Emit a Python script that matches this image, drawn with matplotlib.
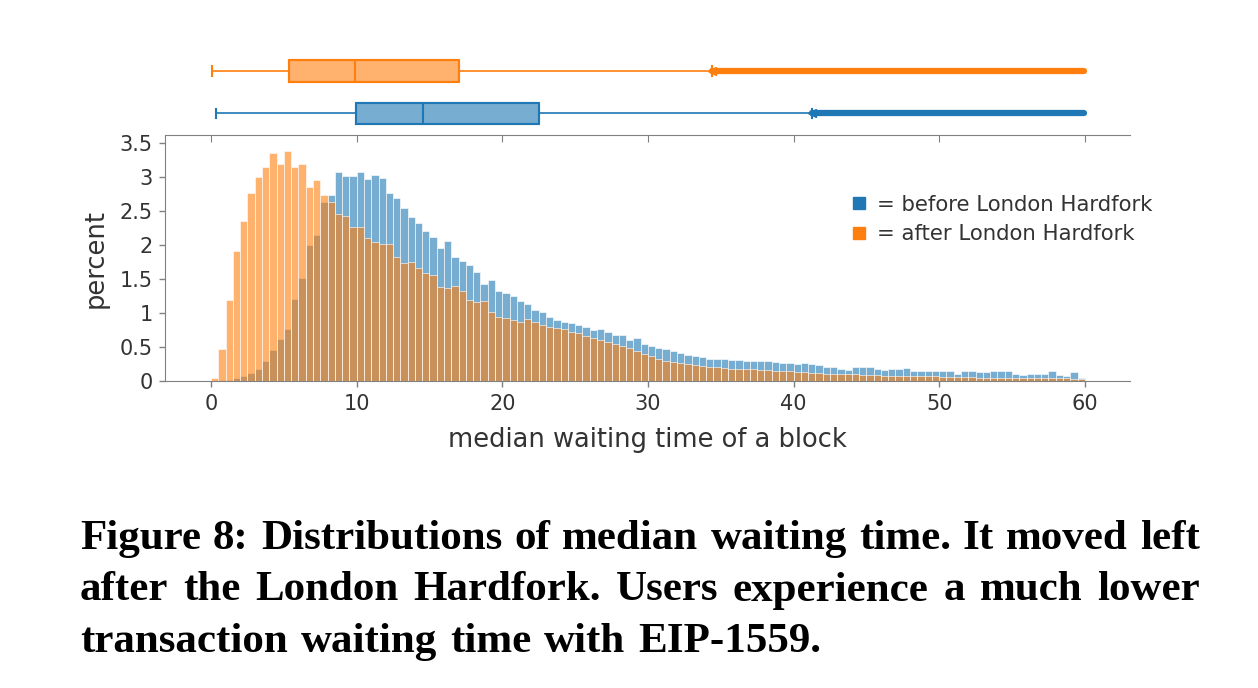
import numpy as np
import matplotlib
matplotlib.use("Agg")
import matplotlib.pyplot as plt
from matplotlib.lines import Line2D

# histogram heights (percent) per 0.5 s bin, 0..60
bin_width = 0.5
before = [0.0, 0.01, 0.02, 0.04, 0.08, 0.12, 0.17, 0.29, 0.45, 0.62,
          0.77, 1.20, 1.52, 2.00, 2.15, 2.63, 2.74, 3.07, 3.01, 3.01,
          3.07, 2.97, 3.03, 2.98, 2.76, 2.70, 2.54, 2.41, 2.32, 2.21,
          2.12, 1.96, 2.06, 1.83, 1.77, 1.70, 1.60, 1.43, 1.49, 1.32,
          1.30, 1.25, 1.18, 1.13, 1.04, 1.01, 0.94, 0.90, 0.87, 0.85,
          0.82, 0.80, 0.75, 0.77, 0.72, 0.68, 0.68, 0.60, 0.63, 0.55,
          0.52, 0.49, 0.47, 0.44, 0.41, 0.39, 0.37, 0.35, 0.33, 0.32,
          0.32, 0.31, 0.31, 0.29, 0.30, 0.30, 0.29, 0.28, 0.27, 0.27,
          0.25, 0.26, 0.25, 0.23, 0.21, 0.21, 0.17, 0.16, 0.20, 0.20,
          0.20, 0.17, 0.16, 0.17, 0.17, 0.19, 0.14, 0.14, 0.14, 0.14,
          0.14, 0.14, 0.11, 0.14, 0.14, 0.13, 0.13, 0.14, 0.14, 0.14,
          0.10, 0.09, 0.10, 0.10, 0.11, 0.14, 0.09, 0.07, 0.13, 0.05]
after = [0.04, 0.47, 1.19, 1.91, 2.35, 2.77, 3.00, 3.15, 3.35, 3.20,
         3.39, 3.15, 3.20, 2.85, 2.96, 2.74, 2.63, 2.46, 2.43, 2.27,
         2.27, 2.11, 2.05, 2.01, 2.01, 1.83, 1.73, 1.75, 1.67, 1.59,
         1.56, 1.39, 1.37, 1.40, 1.32, 1.19, 1.16, 1.18, 1.01, 0.94,
         0.92, 0.90, 0.87, 0.91, 0.87, 0.83, 0.80, 0.78, 0.76, 0.72,
         0.70, 0.66, 0.64, 0.60, 0.58, 0.55, 0.51, 0.48, 0.44, 0.40,
         0.37, 0.33, 0.30, 0.28, 0.26, 0.25, 0.23, 0.22, 0.21, 0.20,
         0.19, 0.18, 0.18, 0.17, 0.17, 0.16, 0.16, 0.15, 0.15, 0.14,
         0.13, 0.13, 0.12, 0.12, 0.11, 0.11, 0.10, 0.10, 0.10, 0.09,
         0.09, 0.09, 0.08, 0.08, 0.08, 0.08, 0.07, 0.07, 0.07, 0.07,
         0.06, 0.06, 0.06, 0.06, 0.06, 0.05, 0.05, 0.05, 0.05, 0.05,
         0.05, 0.05, 0.04, 0.04, 0.04, 0.04, 0.04, 0.04, 0.03, 0.03]

# box plot summaries (seconds)
box_before = dict(whislo=0.32, q1=9.97, med=14.57, q3=22.53, whishi=41.27, maxval=59.94)
box_after = dict(whislo=0.09, q1=5.35, med=9.88, q3=17.04, whishi=34.43, maxval=59.94)

labels = ["= before London Hardfork", "= after London Hardfork"]
caption = ["Figure 8: Distributions of median waiting time. It moved left",
           "after the London Hardfork. Users experience a much lower",
           "transaction waiting time with EIP-1559."]

blue = "#1f77b4"
orange = "#ff7f0e"
txt = "#333333"
spine = "#808080"

plt.rcParams["font.family"] = ["DejaVu Sans"]

fig = plt.figure(figsize=(12.58, 6.88), dpi=100)
ax = fig.add_axes([0.1312, 0.4462, 0.767, 0.3576])
axb = fig.add_axes([0.1312, 0.8038, 0.767, 0.138], sharex=ax)

left = np.arange(len(before)) * bin_width
ax.bar(left, before, width=bin_width, align="edge", color=blue, alpha=0.6,
       edgecolor="white", linewidth=0.7)
ax.bar(left, after, width=bin_width, align="edge", color=orange, alpha=0.6,
       edgecolor="white", linewidth=0.7)

ax.set_xlim(-3.16, 63.1)
ax.set_ylim(0, 3.62)
ax.set_xticks(range(0, 61, 10))
ax.set_yticks([0, 0.5, 1, 1.5, 2, 2.5, 3, 3.5])
ax.set_yticklabels(["0", "0.5", "1", "1.5", "2", "2.5", "3", "3.5"])
for s in ["top", "right"]:
    ax.spines[s].set_visible(False)
for s in ["left", "bottom"]:
    ax.spines[s].set_color(spine)
ax.tick_params(colors=txt, labelsize=15, length=4, width=1, pad=5)
ax.tick_params(axis="both", color=spine)
ax.set_xlabel("median waiting time of a block", fontsize=18.5, color=txt, labelpad=10)
ax.set_ylabel("percent", fontsize=18.5, color=txt, labelpad=8)

handles = [Line2D([], [], marker="s", color=c, linestyle="none", markersize=8)
           for c in (blue, orange)]
ax.legend(handles, labels, loc="upper left", bbox_to_anchor=(0.688, 0.835),
          frameon=False, fontsize=15.3, handletextpad=0.35, labelspacing=0.45,
          labelcolor=txt, handlelength=1.0)

# box plots
for pos, st, c in [(1, box_before, blue), (2, box_after, orange)]:
    axb.bxp([dict(st, fliers=[])], positions=[pos], widths=0.51, vert=False,
            patch_artist=True, showfliers=False,
            boxprops=dict(facecolor=c, alpha=0.6, edgecolor=c, linewidth=1.5),
            medianprops=dict(color=c, linewidth=1.5),
            whiskerprops=dict(color=c, linewidth=1.2),
            capprops=dict(color=c, linewidth=1.5), capwidths=0.22)
    # edge of box drawn opaque on top
    axb.plot([st["q1"], st["q3"], st["q3"], st["q1"], st["q1"]],
             [pos - 0.255, pos - 0.255, pos + 0.255, pos + 0.255, pos - 0.255],
             color=c, linewidth=1.5)
    axb.plot([st["whishi"], st["maxval"]], [pos, pos], color=c, linewidth=4.5,
             solid_capstyle="round")
    axb.plot([st["whishi"]], [pos], marker="<", color=c, markersize=6)

axb.set_ylim(0.487, 2.733)
for s in ["top", "right", "left"]:
    axb.spines[s].set_visible(False)
axb.spines["bottom"].set_color(spine)
axb.set_yticks([])
axb.tick_params(axis="x", labelbottom=False, direction="out", length=5,
                color=spine)

# caption, justified except the last line
renderer = fig.canvas.get_renderer()
x0, x1 = 80, 1200
for i, line in enumerate(caption):
    y = (688 - 549 - 51.5 * i) / 688
    words = line.split()
    texts = [fig.text(0, y, w, family="Liberation Serif", fontweight="bold",
                      fontsize=31, color="black", va="baseline") for w in words]
    widths = [t.get_window_extent(renderer).width for t in texts]
    space = texts[0].get_fontsize() * 100 / 72 * 0.3
    if i < len(caption) - 1:
        space = (x1 - x0 - sum(widths)) / (len(words) - 1)
    x = x0
    for t, w in zip(texts, widths):
        t.set_x(x / 1258)
        x += w + space

fig.savefig("out.png", dpi=100)
